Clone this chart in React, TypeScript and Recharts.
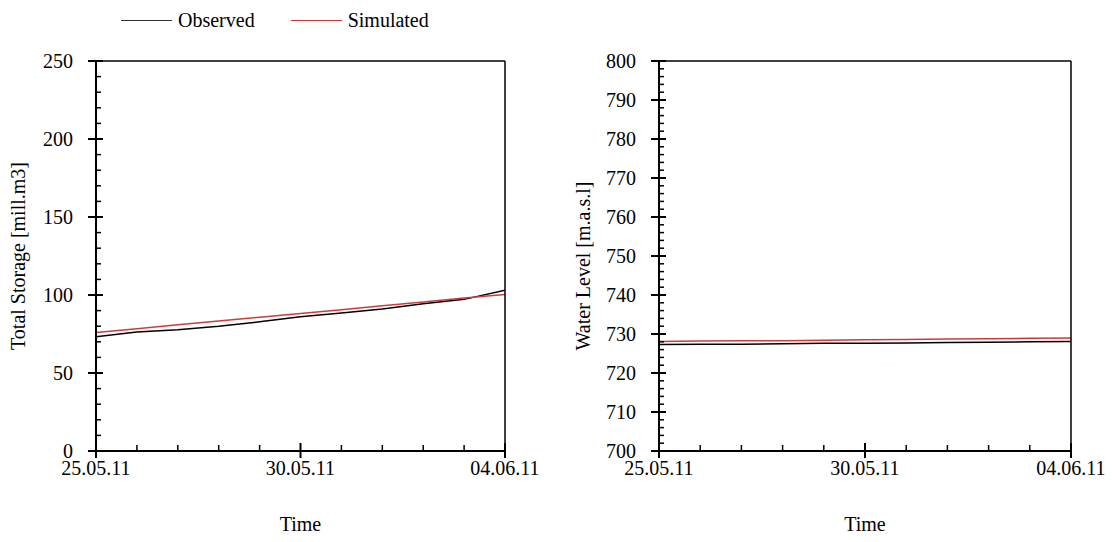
import { LineChart, Line, XAxis, YAxis } from 'recharts';

// days after 25.05.11
const days = [0, 1, 2, 3, 4, 5, 6, 7, 8, 9, 10];
const majorDays = [0, 5, 10];
const allDays = [0, 1, 2, 3, 4, 5, 6, 7, 8, 9, 10];
const dayLabels: Record<number, string> = { 0: '25.05.11', 5: '30.05.11', 10: '04.06.11' };

const storageObserved = [73.2, 76.3, 77.8, 80.0, 82.8, 86.0, 88.4, 91.0, 94.4, 97.2, 103.0];
const storageSimulated = [76.0, 78.4, 80.9, 83.3, 85.8, 88.2, 90.6, 93.1, 95.5, 98.0, 100.4];
const levelObserved = [727.3, 727.4, 727.4, 727.5, 727.6, 727.6, 727.7, 727.8, 727.9, 728.0, 728.1];
const levelSimulated = [728.1, 728.2, 728.3, 728.3, 728.4, 728.5, 728.6, 728.7, 728.8, 728.9, 729.0];

const storageMajor = [0, 50, 100, 150, 200, 250];
const storageTicks = [
  0, 10, 20, 30, 40, 50, 60, 70, 80, 90, 100, 110, 120, 130, 140, 150, 160, 170, 180, 190, 200,
  210, 220, 230, 240, 250,
];
const levelMajor = [700, 710, 720, 730, 740, 750, 760, 770, 780, 790, 800];
const levelTicks = [
  700, 702, 704, 706, 708, 710, 712, 714, 716, 718, 720, 722, 724, 726, 728, 730, 732, 734, 736, 738,
  740, 742, 744, 746, 748, 750, 752, 754, 756, 758, 760, 762, 764, 766, 768, 770, 772, 774, 776, 778,
  780, 782, 784, 786, 788, 790, 792, 794, 796, 798, 800,
];

const FONT = "'Liberation Serif', 'DejaVu Serif', serif";
const RED = '#cc3b3b';

const storageData = days.map((t, i) => ({ t, obs: storageObserved[i], sim: storageSimulated[i] }));
const levelData = days.map((t, i) => ({ t, obs: levelObserved[i], sim: levelSimulated[i] }));

// bottom axis tick: label + tick line crossing the axis for majors, inner tick for minors
function XTick(props: any) {
  const { x, y, payload } = props;
  const major = majorDays.includes(payload.value);
  return (
    <g>
      <line x1={x} x2={x} y1={y - (major ? 8 : 6)} y2={y + (major ? 7 : 0)} stroke="#000" strokeWidth={major ? 2 : 1.5} />
      {major && (
        <text x={x} y={y + 10} dy="0.71em" textAnchor="middle" fill="#000" fontSize={20} fontFamily={FONT}>
          {dayLabels[payload.value]}
        </text>
      )}
    </g>
  );
}

function makeYTick(major: number[]) {
  return function YTick(props: any) {
    const { x, y, payload } = props;
    const isMajor = major.includes(payload.value);
    return (
      <g>
        <line x1={x - (isMajor ? 8 : 0)} x2={x + (isMajor ? 7 : 5)} y1={y} y2={y} stroke="#000" strokeWidth={isMajor ? 2 : 1.5} />
        {isMajor && (
          <text x={x - 23} y={y} dy="0.35em" textAnchor="end" fill="#000" fontSize={20} fontFamily={FONT}>
            {payload.value}
          </text>
        )}
      </g>
    );
  };
}

const StorageTick = makeYTick(storageMajor);
const LevelTick = makeYTick(levelMajor);

interface PanelProps {
  data: { t: number; obs: number; sim: number }[];
  width: number;
  margin: { top: number; right: number; bottom: number; left: number };
  yAxisWidth: number;
  yDomain: [number, number];
  yTicks: number[];
  yTick: (p: any) => any;
  yLabel: string;
  yLabelShift: number;
}

const thick = { stroke: '#000', strokeWidth: 2 };
const thin = { stroke: '#000', strokeWidth: 1.5 };

function Panel({ data, width, margin, yAxisWidth, yDomain, yTicks, yTick, yLabel, yLabelShift }: PanelProps) {
  return (
    <LineChart width={width} height={542} data={data} margin={margin} style={{ overflow: 'visible', fontFamily: FONT }}>
      <XAxis
        xAxisId="main"
        dataKey="t"
        type="number"
        domain={[0, 10]}
        allowDataOverflow
        ticks={allDays}
        interval={0}
        tick={XTick}
        tickLine={false}
        tickSize={0}
        tickMargin={0}
        axisLine={thick}
        height={80}
        label={{ value: 'Time', position: 'insideBottom', offset: 0, fill: '#000', fontSize: 20, fontFamily: FONT }}
      />
      <XAxis xAxisId="top" dataKey="t" type="number" domain={[0, 10]} orientation="top"
        tick={false} tickLine={false} height={1} axisLine={thin} />
      <YAxis
        yAxisId="main"
        type="number"
        domain={yDomain}
        allowDataOverflow
        ticks={yTicks}
        interval={0}
        tick={yTick}
        tickLine={false}
        tickSize={0}
        tickMargin={0}
        axisLine={thick}
        width={yAxisWidth}
        label={{ value: yLabel, angle: -90, position: 'insideLeft', offset: 5, dy: yLabelShift, fill: '#000', fontSize: 20, fontFamily: FONT, style: { textAnchor: 'middle' } }}
      />
      <YAxis yAxisId="right" type="number" domain={yDomain} orientation="right"
        tick={false} tickLine={false} width={1} axisLine={thin} />
      <Line xAxisId="main" yAxisId="main" type="linear" dataKey="obs" stroke="#000" strokeWidth={1.5} dot={false} isAnimationActive={false} />
      <Line xAxisId="main" yAxisId="main" type="linear" dataKey="sim" stroke={RED} strokeWidth={1.5} dot={false} isAnimationActive={false} />
    </LineChart>
  );
}

export default function App() {
  return (
    <div style={{ position: 'absolute', left: 0, top: 0, width: 1113, height: 542, background: '#fff', fontFamily: FONT }}>
      <div style={{ position: 'absolute', left: 121, top: 9, display: 'flex', alignItems: 'center', fontSize: 20, color: '#000' }}>
        <span style={{ display: 'inline-block', width: 51, borderTop: '1.5px solid #333', marginRight: 6 }} />
        <span>Observed</span>
        <span style={{ display: 'inline-block', width: 51, borderTop: `1.5px solid ${RED}`, marginLeft: 36, marginRight: 6 }} />
        <span>Simulated</span>
      </div>
      <div style={{ position: 'absolute', left: 0, top: 0 }}>
        <Panel
          data={storageData}
          width={556}
          margin={{ top: 60, right: 50, bottom: 11, left: 13 }}
          yAxisWidth={83}
          yDomain={[0, 250]}
          yTicks={storageTicks}
          yTick={StorageTick}
          yLabel="Total Storage [mill.m3]"
          yLabelShift={0}
        />
      </div>
      <div style={{ position: 'absolute', left: 556, top: 0 }}>
        <Panel
          data={levelData}
          width={557}
          margin={{ top: 60, right: 41, bottom: 11, left: 22 }}
          yAxisWidth={81}
          yDomain={[700, 800]}
          yTicks={levelTicks}
          yTick={LevelTick}
          yLabel="Water Level [m.a.s.l]"
          yLabelShift={10}
        />
      </div>
    </div>
  );
}
